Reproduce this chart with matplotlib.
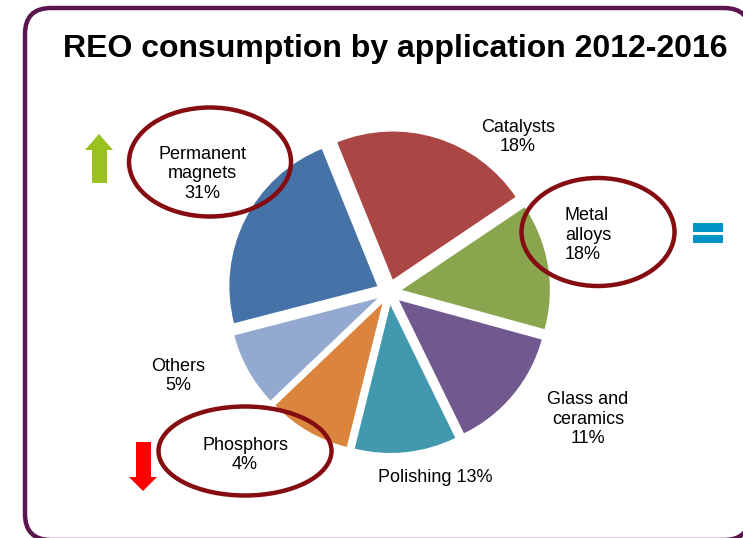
import matplotlib
matplotlib.use("Agg")
import matplotlib.pyplot as plt
from matplotlib.patches import Ellipse, FancyBboxPatch, Rectangle, Polygon

plt.rcParams['font.family'] = ['Liberation Sans', 'DejaVu Sans']

# ------------------------------------------------------------
# data
# ------------------------------------------------------------
names = ['Permanent\nmagnets', 'Catalysts', 'Metal\nalloys', 'Glass and\nceramics',
         'Polishing', 'Phosphors', 'Others']
label_pct = [31, 18, 18, 11, 13, 4, 5]
# slice shares as drawn in the original picture (they do not match the labels)
slice_share = [22.9, 21.7, 13.7, 13.5, 11.1, 9.0, 8.1]
colors = ['#4572A7', '#AA4643', '#89A54E', '#71588F', '#4198AF', '#DB843D', '#93A9CF']

# label placement (pixels from top-left) and alignment
label_xy = [(202, 174), (518, 137), (565, 235), (588, 419), (435, 477), (245, 455), (178, 376)]
label_ha = ['center', 'center', 'left', 'center', 'center', 'center', 'center']
label_sep = ['\n', '\n', '\n', '\n', ' ', '\n', '\n']

W, H = 743, 538
fig = plt.figure(figsize=(W / 100, H / 100), dpi=100)


def fy(y):
    # picture y (top-down) -> overlay y (bottom-up)
    return H - y


# background axes with the rounded frame (filled, so Agg clips it cleanly)
bg = fig.add_axes([0, 0, 1, 1], zorder=0)
bg.set_xlim(0, W)
bg.set_ylim(0, H)
bg.axis('off')
frame = FancyBboxPatch((25, fy(540)), 725, 532, boxstyle="round,pad=0,rounding_size=26",
                       facecolor='white', edgecolor='#5B1650', linewidth=3.2)
bg.add_patch(frame)

# pie axes: 1 data unit = R pixels, centred at (cx, cy)
R, cx, cy = 148, 389, 292
half = 1.6
size = 2 * half * R
ax = fig.add_axes([(cx - size / 2) / W, (H - cy - size / 2) / H, size / W, size / H], zorder=1)
ax.pie(slice_share, colors=colors, startangle=194.5, counterclock=False,
       explode=[0.088] * len(slice_share), radius=1.0,
       wedgeprops=dict(linewidth=0))
ax.set_xlim(-half, half)
ax.set_ylim(-half, half)
ax.set_aspect('equal')
ax.axis('off')

# overlay in pixel coordinates for text and decorations
ov = fig.add_axes([0, 0, 1, 1], zorder=5)
ov.set_xlim(0, W)
ov.set_ylim(0, H)
ov.axis('off')
ov.patch.set_alpha(0)

ov.text(395, fy(57), 'REO consumption by application 2012-2016', ha='center', va='baseline',
        fontsize=23, fontweight='bold', color='black')

for name, pct, (x, y), ha, sep in zip(names, label_pct, label_xy, label_ha, label_sep):
    ov.text(x, fy(y), f'{name}{sep}{pct}%', ha=ha, va='center', fontsize=13,
            multialignment=ha, linespacing=1.2)

# highlight ellipses
for (ex, ey, ew, eh) in [(210, 162, 162, 109), (245, 451, 173, 89), (598, 232, 153, 108)]:
    ov.add_patch(Ellipse((ex, fy(ey)), ew, eh, fill=False, edgecolor='#850C10', linewidth=3.2))

# trend markers
up = [(92, 183), (92, 150), (85, 150), (99, 134), (113, 150), (107, 150), (107, 183)]
down = [(136, 442), (136, 477), (129, 477), (143, 491), (157, 477), (151, 477), (151, 442)]
ov.add_patch(Polygon([(x, fy(y)) for x, y in up], closed=True, color='#99C221', lw=0))
ov.add_patch(Polygon([(x, fy(y)) for x, y in down], closed=True, color='#FF0000', lw=0))
ov.add_patch(Rectangle((693, fy(232)), 30, 9, color='#0093C8', lw=0))
ov.add_patch(Rectangle((693, fy(243)), 30, 8, color='#0093C8', lw=0))

fig.savefig('out.png', dpi=100)
